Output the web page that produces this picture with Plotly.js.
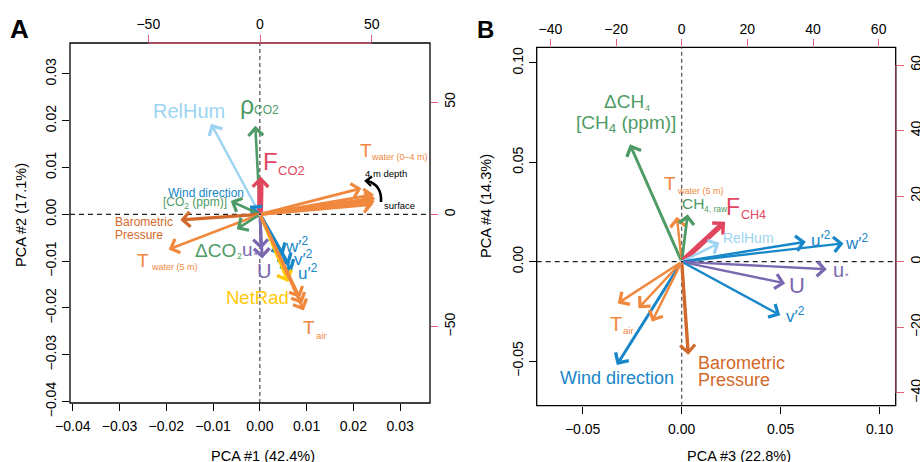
<!DOCTYPE html>
<html>
<head>
<meta charset="utf-8">
<script src="https://cdn.plot.ly/plotly-3.0.1.min.js"></script>
<style>html,body{margin:0;padding:0;background:#fff}#chart{width:920px;height:462px}</style>
</head>
<body>
<div id="chart"></div>
<script>
// ---------------- DATA ----------------
// Panel A: loadings on PCA #1 / #2 (top / right axis units)
const A_vars = ['RelHum','rhoCO2','FCO2','WindDir','CO2ppm','BaroP','Twater5','dCO2','ustar','U','w2','v2','u2','NetRad','Tair_a','Tair_b','Tair_c','Tw_a','Tw_b','Tw_c','Tw_d','Tw_e'];
const A_pc1 = [-21.9, -2.1, 0.3, -4.5, -13.1, -35.7, -40.9, -10.4, 0.4, 1.0, 10.4, 13.1, 14.2, 12.6, 17.9, 18.8, 19.6, 45.4, 51.0, 51.5, 51.3, 50.6];
const A_pc2 = [40.3, 39.4, 16.8, 3.8, 5.9, -2.5, -15.6, -6.6, -15.5, -19.7, -18.2, -22.6, -25.6, -30.1, -37.2, -39.9, -42.8, 11.6, 8.8, 7.2, 5.8, 4.5];
// Panel B: loadings on PCA #3 / #4
const B_vars = ['dCH4','Twater5','CH4raw','FCH4','RelHum','u2','w2','ustar','U','v2','BaroP','WindDir','Tair_a','Tair_b','Tair_c'];
const B_pc3 = [-15.8, -1.5, 1.8, 13.2, 11.5, 37.8, 49.3, 44.2, 31.5, 30.0, 2.0, -19.8, -19.5, -13.2, -9.1];
const B_pc4 = [35.8, 13.7, 14.5, 12.2, 5.8, 6.1, 5.6, -2.3, -6.6, -16.3, -28.4, -31.5, -12.7, -14.2, -18.3];
// Tick labels
const A_xticks = [-0.04, -0.03, -0.02, -0.01, 0.00, 0.01, 0.02, 0.03];
const A_yticks = [-0.04, -0.03, -0.02, -0.01, 0.00, 0.01, 0.02, 0.03];
const A_topticks = [-50, 0, 50];
const A_rightticks = [-50, 0, 50];
const B_xticks = [-0.05, 0.00, 0.05, 0.10];
const B_yticks = [-0.05, 0.00, 0.05, 0.10];
const B_topticks = [-40, -20, 0, 20, 40, 60];
const B_rightticks = [-40, -20, 0, 20, 40, 60];

// ---------------- STYLES ----------------
const FONT = 'Liberation Sans, Arial, Helvetica, sans-serif';
const C = {
  orange:'#F0883E', dorange:'#D2692A', green:'#4F9B66', red:'#E0475E',
  lblue:'#9DD4F2', blue:'#1787C9', purple:'#7A68B0', yellow:'#FFC905', redtick:'#E0607A'
};
// [colour, line width, head size]
const A_style = {
  RelHum:[C.lblue,2.4,1.2], rhoCO2:[C.green,2.6,1.1], FCO2:[C.red,6,0.5], WindDir:[C.blue,2.6,1.1],
  CO2ppm:[C.green,2.6,1.1], BaroP:[C.dorange,3.4,0.85], Twater5:[C.orange,2.6,1.1], dCO2:[C.green,2.6,1.1],
  ustar:[C.purple,2.6,1.1], U:[C.purple,3,1.0], w2:[C.blue,3,1.0], v2:[C.blue,3,1.0], u2:[C.blue,3,1.0],
  NetRad:[C.yellow,3,1.0], Tair_a:[C.orange,2.6,1.1], Tair_b:[C.orange,2.6,1.1], Tair_c:[C.orange,2.6,1.1],
  Tw_a:[C.orange,2.8,1.0], Tw_b:[C.orange,3,0.95], Tw_c:[C.orange,3.2,0.9], Tw_d:[C.orange,3.2,0.9], Tw_e:[C.orange,3,0.95]
};
const B_style = {
  dCH4:[C.green,3,1.0], Twater5:[C.orange,2.4,1.2], CH4raw:[C.green,2.8,1.05], FCH4:[C.red,5.5,0.55],
  RelHum:[C.lblue,2.4,1.2], u2:[C.blue,2.4,1.2], w2:[C.blue,2.4,1.2], ustar:[C.purple,2.4,1.2], U:[C.purple,2.4,1.2],
  v2:[C.blue,2.4,1.2], BaroP:[C.dorange,3.4,0.85], WindDir:[C.blue,3,1.0],
  Tair_a:[C.orange,2.4,1.2], Tair_b:[C.orange,2.4,1.2], Tair_c:[C.orange,2.4,1.2]
};

const W = 920, H = 462;
const px = x => x / W, py = y => 1 - y / H;

const annotations = [];
function addArrows(vars, xs, ys, style, xr, yr) {
  vars.forEach((v, i) => {
    const s = style[v];
    annotations.push({xref:xr, yref:yr, axref:xr, ayref:yr, x:xs[i], y:ys[i], ax:0, ay:0,
      text:'', showarrow:true, arrowhead:4, arrowsize:s[2], arrowwidth:s[1], arrowcolor:s[0], standoff:0});
  });
}
addArrows(A_vars, A_pc1, A_pc2, A_style, 'x2', 'y2');
addArrows(B_vars, B_pc3, B_pc4, B_style, 'x4', 'y4');

function lab(text, x, y, size, color, xanchor, extra) {
  annotations.push(Object.assign({xref:'paper', yref:'paper', x:px(x), y:py(y), text:text, showarrow:false,
    xanchor:xanchor || 'center', yanchor:'middle', borderpad:0, font:{family:FONT, size:size, color:color}}, extra || {}));
}
// Panel A labels
lab('RelHum', 189, 111, 20, C.lblue);
lab('ρ', 247, 105, 25, C.green);
lab('CO2', 252.5, 110, 12, C.green, 'left');
lab('F', 270.5, 161.5, 24, C.red);
lab('CO2', 277, 170, 13, C.red, 'left');
lab('T', 365.5, 150, 19, C.orange);
lab('water (0–4 m)', 370, 157, 9, C.orange, 'left');
lab('4 m depth', 386, 173.3, 9.5, '#000');
lab('surface', 399.5, 205.7, 9.5, '#000');
lab('Wind direction', 205.5, 192.7, 12, C.blue);
lab('[CO<sub>2</sub> (ppm)]', 194.7, 202.7, 12, C.green);
lab('Barometric', 114.3, 221.7, 12, C.dorange, 'left');
lab('Pressure', 114.3, 234.5, 12, C.dorange, 'left');
lab('T', 143.3, 260, 19, C.orange);
lab('water (5 m)', 149.5, 266.7, 9, C.orange, 'left');
lab('ΔCO', 215, 250, 19, C.green);
lab('2', 235.5, 256, 9, C.green, 'left');
lab('u', 247, 249, 19, C.purple);
lab('*', 252.5, 255, 9, C.purple, 'left');
lab('U', 264, 271, 20, C.purple);
lab('w′<sup>2</sup>', 296.7, 245, 17, C.blue);
lab('v′<sup>2</sup>', 303, 258.3, 17, C.blue);
lab('u′<sup>2</sup>', 307.5, 272, 17, C.blue);
lab('NetRad', 257.7, 297.5, 18.5, C.yellow);
lab('T', 309, 327.5, 19, C.orange);
lab('air', 314.5, 335, 9.5, C.orange, 'left');
// Panel B labels
lab('ΔCH', 624.3, 102, 19, C.green);
lab('4', 644, 108, 9, C.green, 'left');
lab('[CH<sub>4</sub> (ppm)]', 626, 124.5, 19, C.green);
lab('T', 670, 183.3, 19, C.orange);
lab('water (5 m)', 675.5, 190.7, 9, C.orange, 'left');
lab('CH', 693.3, 204, 15.5, C.green);
lab('4, raw', 702.5, 209.3, 8.5, C.green, 'left');
lab('F', 733.3, 206.7, 23, C.red);
lab('CH4', 740, 215, 12.5, C.red, 'left');
lab('RelHum', 748.8, 237.5, 14, C.lblue);
lab('u′<sup>2</sup>', 820.5, 239, 17, C.blue);
lab('w′<sup>2</sup>', 856, 241.7, 17, C.blue);
lab('u', 838.5, 270, 20, C.purple);
lab('*', 844, 276, 9, C.purple, 'left');
lab('U', 796.7, 285, 22, C.purple);
lab('v′<sup>2</sup>', 795, 315, 17, C.blue);
lab('T', 615.8, 324, 20, C.orange);
lab('air', 622, 330.7, 9.5, C.orange, 'left');
lab('Wind direction', 616.7, 378, 18, C.blue);
lab('Barometric', 696.7, 363.3, 18, C.dorange, 'left');
lab('Pressure', 696.7, 380, 18, C.dorange, 'left');
// Panel letters & axis titles
lab('<b>A</b>', 19.2, 29.2, 26, '#000');
lab('<b>B</b>', 485.8, 29.5, 24, '#000');
lab('PCA #1 (42.4%)', 262.5, 455.5, 14.5, '#000');
lab('PCA #2 (17.1%)', 21, 215, 14.5, '#000', 'center', {textangle:-90});
lab('PCA #3 (22.8%)', 738.5, 455.5, 14.5, '#000');
lab('PCA #4 (14.3%)', 486, 206, 14.5, '#000', 'center', {textangle:-90});

// ---------------- AXES ----------------
const tf = {family:FONT, size:14, color:'#000'};
function ax(o) {
  return Object.assign({showgrid:false, zeroline:false, showline:false, ticks:'outside', ticklen:7, tickwidth:1,
    tickcolor:'#000', tickfont:tf, fixedrange:true}, o);
}
const dAx = [px(70), px(430)], dAy = [py(403), py(43)];
const dBx = [px(536.7), px(895.7)], dBy = [py(405.7), py(47.3)];

const layout = {
  width:W, height:H, margin:{l:0, r:0, t:0, b:0}, paper_bgcolor:'#fff', plot_bgcolor:'rgba(0,0,0,0)',
  showlegend:false,
  xaxis: ax({domain:dAx, range:[-0.0406, 0.0364], anchor:'y', tickvals:A_xticks, tickformat:'.2f', ticklabelstandoff:3}),
  yaxis: ax({domain:dAy, range:[-0.0403, 0.0366], anchor:'x', tickvals:A_yticks, tickformat:'.2f', tickangle:-90}),
  xaxis2: ax({range:[-85.05, 76.1], overlaying:'x', side:'top', anchor:'y', tickvals:A_topticks, tickcolor:C.redtick}),
  yaxis2: ax({range:[-84.0, 76.3], overlaying:'y', side:'right', anchor:'x', tickvals:A_rightticks, tickcolor:C.redtick, tickangle:-90}),
  xaxis3: ax({domain:dBx, range:[-0.0732, 0.1081], anchor:'y3', tickvals:B_xticks, tickformat:'.2f', ticklabelstandoff:3}),
  yaxis3: ax({domain:dBy, range:[-0.0725, 0.1079], anchor:'x3', tickvals:B_yticks, tickformat:'.2f', tickangle:-90}),
  xaxis4: ax({range:[-44.2, 65.2], overlaying:'x3', side:'top', anchor:'y3', tickvals:B_topticks, tickcolor:C.redtick}),
  yaxis4: ax({range:[-43.9, 65.4], overlaying:'y3', side:'right', anchor:'x3', tickvals:B_rightticks, tickcolor:C.redtick, tickangle:-90}),
  annotations: annotations,
  shapes: [
    // zero reference lines
    {type:'line', xref:'x', yref:'y domain', x0:0, x1:0, y0:0, y1:1, line:{color:'#666', width:1.4, dash:'4px,3px'}},
    {type:'line', xref:'x domain', yref:'y', x0:0, x1:1, y0:0, y1:0, line:{color:'#222', width:1.2, dash:'5px,4px'}},
    {type:'line', xref:'x3', yref:'y3 domain', x0:0, x1:0, y0:0, y1:1, line:{color:'#666', width:1.4, dash:'4px,3px'}},
    {type:'line', xref:'x3 domain', yref:'y3', x0:0, x1:1, y0:0, y1:0, line:{color:'#222', width:1.2, dash:'5px,4px'}},
    // boxes
    {type:'rect', xref:'x domain', yref:'y domain', x0:0, x1:1, y0:0, y1:1, line:{color:'#000', width:1.3}},
    {type:'rect', xref:'x3 domain', yref:'y3 domain', x0:0, x1:1, y0:0, y1:1, line:{color:'#000', width:1.3}},
    // coloured secondary axis lines
    {type:'line', xref:'x2', yref:'y domain', x0:A_topticks[0], x1:A_topticks[A_topticks.length-1], y0:1, y1:1, line:{color:'#C9556B', width:1.3}},
    {type:'line', xref:'x3 domain', yref:'y4', x0:1, x1:1, y0:B_rightticks[0], y1:B_rightticks[B_rightticks.length-1], line:{color:'#7A3845', width:1.5}},
    // curved arrow surface -> 4 m depth
    {type:'path', xref:'paper', yref:'paper',
     path:`M${px(381)},${py(202)} Q${px(382)},${py(185)} ${px(367.5)},${py(181)}`, line:{color:'#000', width:2.6}},
    {type:'path', xref:'paper', yref:'paper',
     path:`M${px(372)},${py(176.5)} L${px(366)},${py(180.8)} L${px(371)},${py(186)}`, line:{color:'#000', width:2.4}}
  ]
};

// invisible anchor traces so every axis pair is a subplot
const traces = [
  {x:[0], y:[0], xaxis:'x', yaxis:'y', mode:'markers', marker:{opacity:0}, hoverinfo:'skip'},
  {x:[0], y:[0], xaxis:'x2', yaxis:'y2', mode:'markers', marker:{opacity:0}, hoverinfo:'skip'},
  {x:[0], y:[0], xaxis:'x3', yaxis:'y3', mode:'markers', marker:{opacity:0}, hoverinfo:'skip'},
  {x:[0], y:[0], xaxis:'x4', yaxis:'y4', mode:'markers', marker:{opacity:0}, hoverinfo:'skip'}
];

Plotly.newPlot('chart', traces, layout, {staticPlot:true, displayModeBar:false});
</script>
</body>
</html>
